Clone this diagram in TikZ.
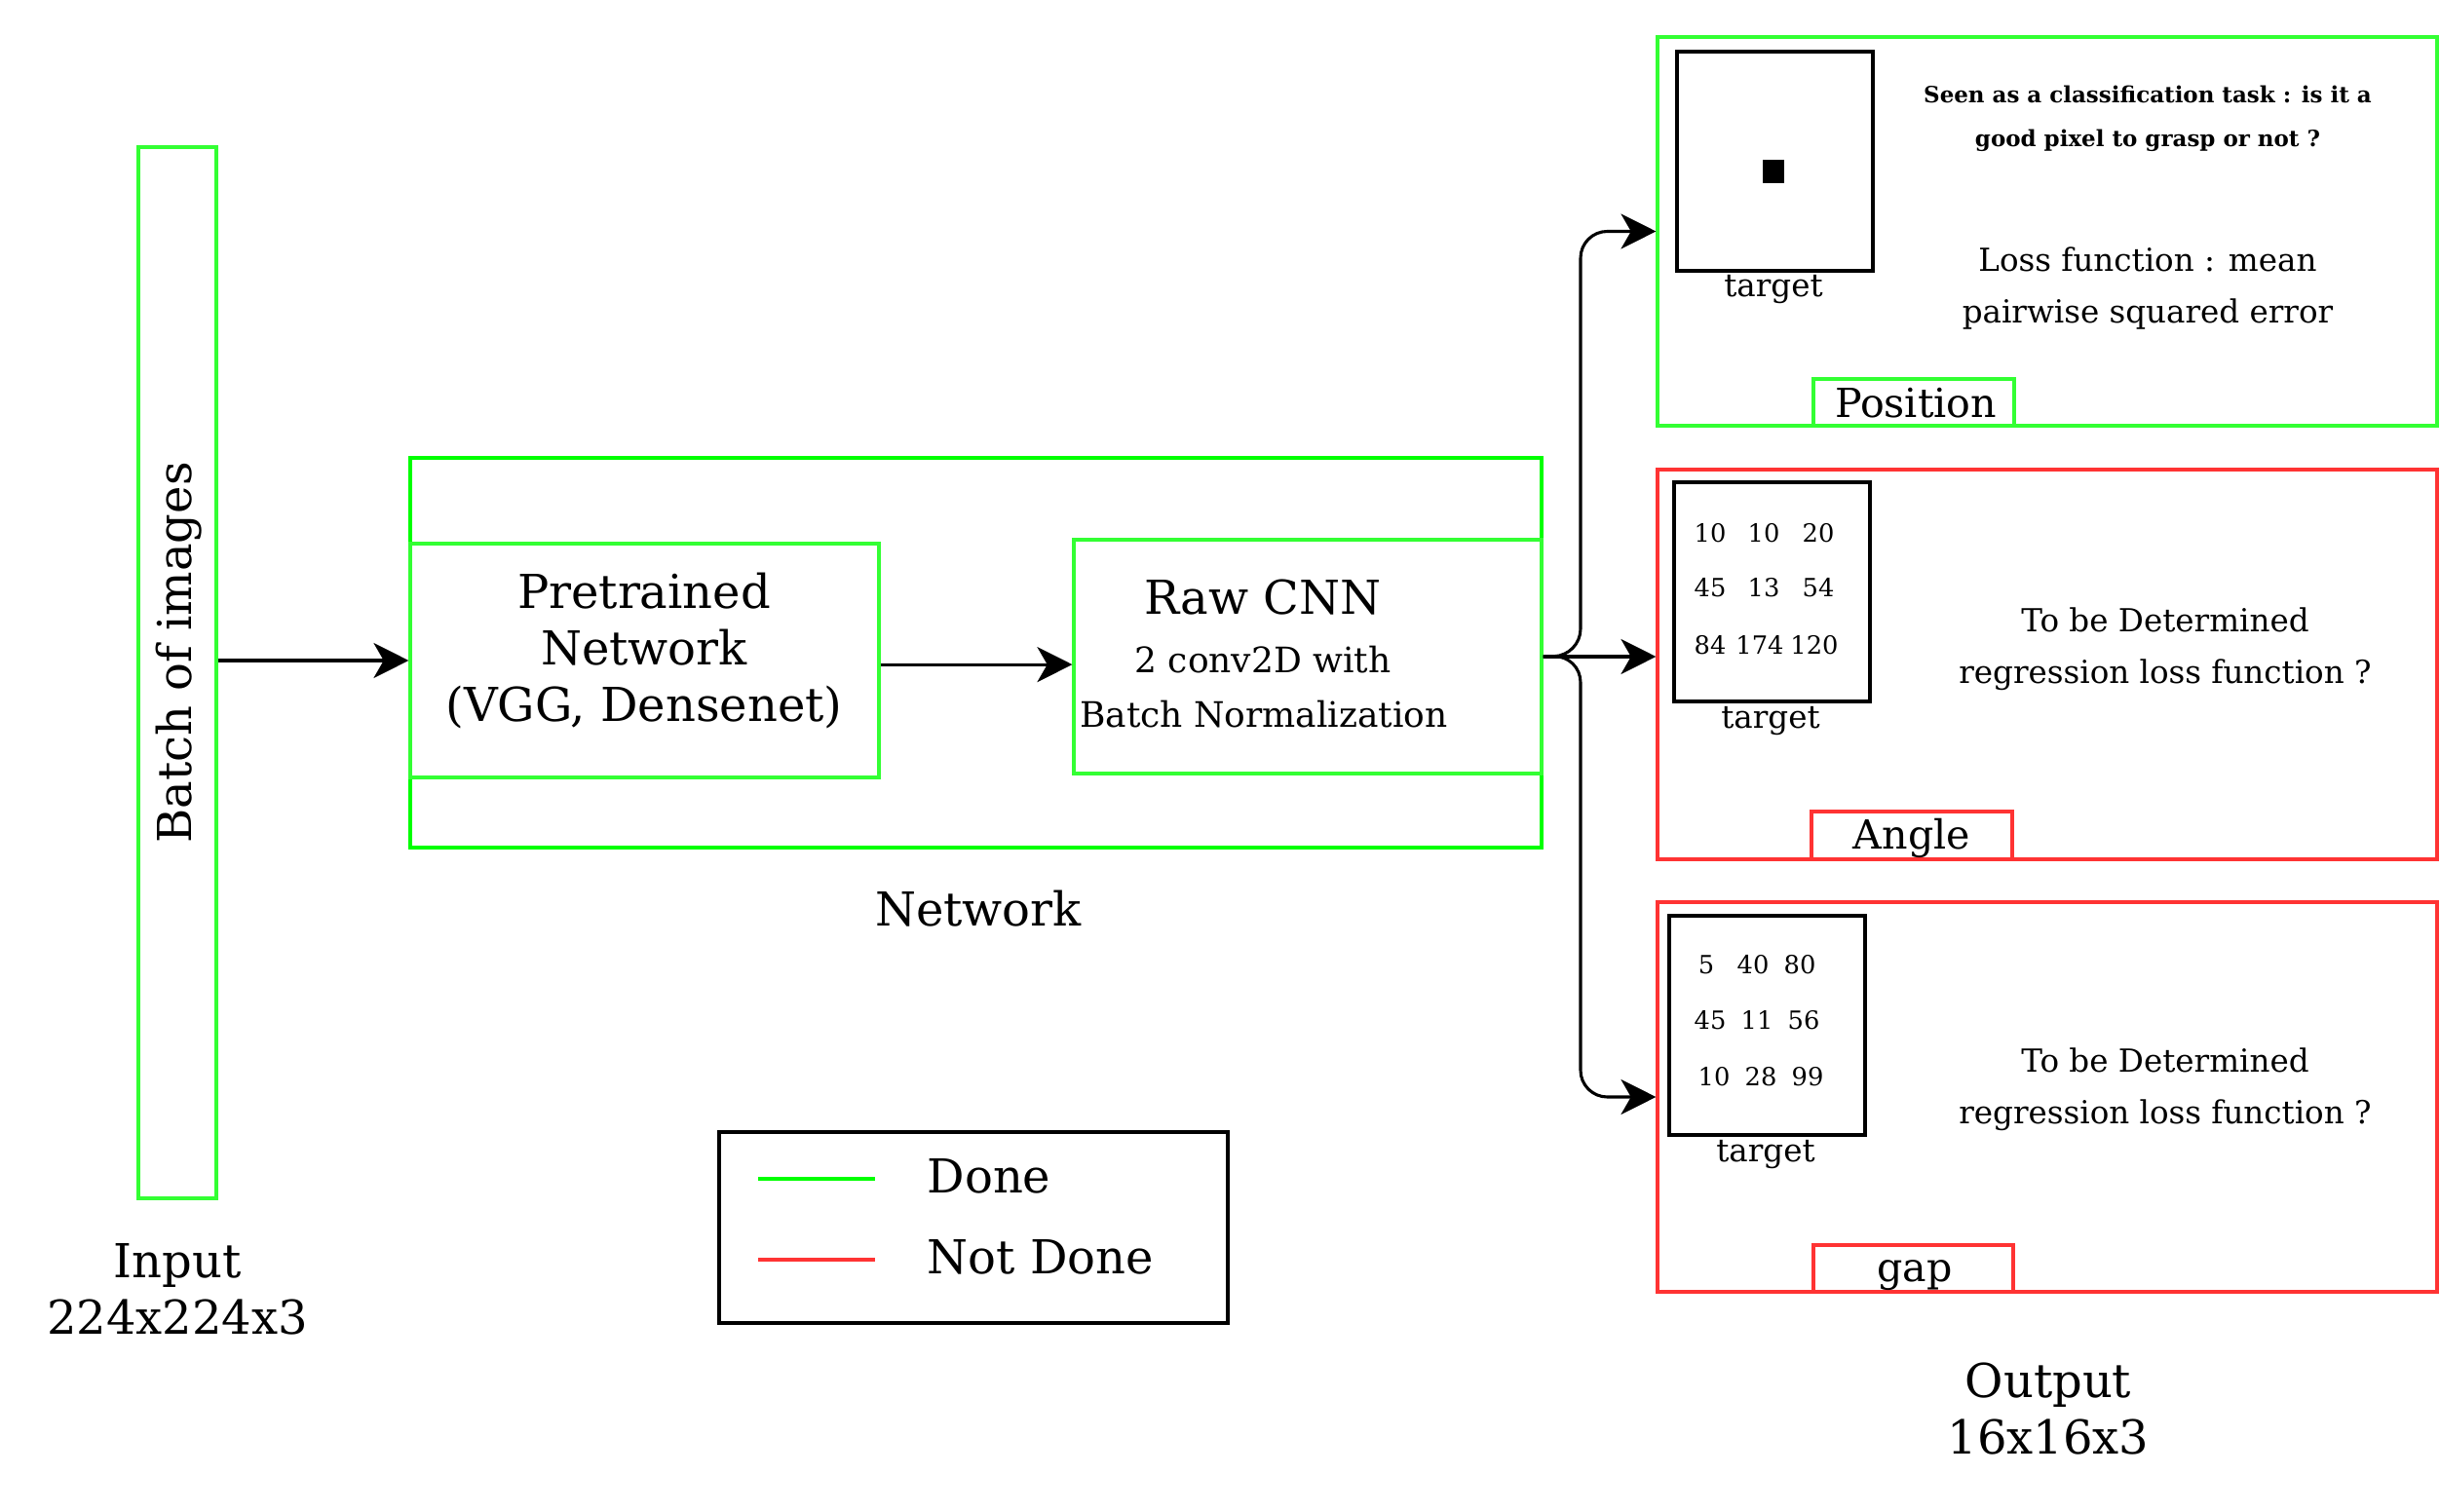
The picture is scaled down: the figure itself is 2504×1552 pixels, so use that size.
\documentclass[tikz,border=0pt]{standalone}
\usepackage{fontspec}
\setmainfont{DejaVu Serif}
\usetikzlibrary{arrows.meta,fit}
\definecolor{gA}{HTML}{00FF00}
\definecolor{gB}{HTML}{33FF33}
\definecolor{rA}{HTML}{FF3333}
\begin{document}
\begin{tikzpicture}[x=0.29167pt,y=-0.29167pt,
  box/.style={draw, inner sep=0pt, line width=0.9pt},
  gbox/.style={box, draw=gB},
  nbox/.style={box, draw=gA},
  rbox/.style={box, draw=rA},
  tbox/.style={draw=black, line width=1.2pt, inner sep=0pt},
  lbl/.style={inner sep=0pt, font=\fontsize{14}{17}\selectfont, align=center},
  tag/.style={inner sep=0pt, font=\fontsize{12}{14}\selectfont},
  mid/.style={inner sep=0pt, font=\fontsize{10.5}{12}\selectfont},
  sml/.style={inner sep=0pt, font=\fontsize{9.5}{11}\selectfont},
  tny/.style={inner sep=0pt, font=\fontsize{6.7}{8}\selectfont\bfseries},
  num/.style={inner sep=0pt, font=\fontsize{7.5}{9}\selectfont},
  arr/.style={draw=black, line width=0.9pt, -{Stealth[length=10.5pt,width=10.5pt,inset=3pt]}},
]
\useasboundingbox (0,0) rectangle (2504,1552);

% Input
\node[gbox, fit={(142,151) (222,1230)}] (batch) {};
\node[lbl, rotate=90] (batchtxt) at (184,670) {Batch of images};
\node[lbl] (inlbl) at (182,1323) {Input\\224x224x3};

% Network
\node[nbox, fit={(421,470) (1582,870)}] (net) {};
\node[gbox, fit={(421,558) (902,798)}] (pre) {};
\node[gbox, fit={(1102,554) (1582,794)}] (raw) {};
\node[lbl] (pretxt) at (661,668) {Pretrained\\Network\\(VGG, Densenet)};
\node[lbl] (rawtxt) at (1296,613) {Raw CNN};
\node[mid] (rawtxt2) at (1296,677) {2 conv2D with};
\node[mid] (rawtxt3) at (1297,733) {Batch Normalization};
\node[lbl] (netlbl) at (1004,933) {Network};

% Position
\node[gbox, fit={(1701,38) (2501,437)}] (pos) {};
\node[tbox, fit={(1721,53) (1922,278)}] (postgt) {};
\node[fill=black, inner sep=0pt, fit={(1809,164) (1831,188)}] (posdot) {};
\node[sml] (postgtlbl) at (1820,297) {target};
\node[tny] (posq1) at (2204,97) {Seen as a classification task : is it a};
\node[tny] (posq2) at (2204,144) {good pixel to grasp or not ?};
\node[sml] (posl1) at (2204,266) {Loss function : mean};
\node[sml] (posl2) at (2204,323) {pairwise squared error};
\node[gbox, fit={(1861,389) (2067,437)}] (posname) {};
\node[tag] (posnametxt) at (1966,414) {Position};

% Angle
\node[rbox, fit={(1701,482) (2501,882)}] (ang) {};
\node[tbox, fit={(1718,495) (1919,720)}] (angtgt) {};
\node[num] (a11) at (1755,547) {10};
\node[num] (a12) at (1810,547) {10};
\node[num] (a13) at (1866,547) {20};
\node[num] (a21) at (1755,603) {45};
\node[num] (a22) at (1810,603) {13};
\node[num] (a23) at (1866,603) {54};
\node[num] (a31) at (1755,662) {84};
\node[num] (a32) at (1806,662) {174};
\node[num] (a33) at (1862,662) {120};
\node[sml] (angtgtlbl) at (1817,740) {target};
\node[sml] (angl1) at (2222,636) {To be Determined};
\node[sml] (angl2) at (2222,693) {regression loss function ?};
\node[rbox, fit={(1859,833) (2065,882)}] (angname) {};
\node[tag] (angnametxt) at (1962,860) {Angle};

% Gap
\node[rbox, fit={(1701,926) (2501,1326)}] (gap) {};
\node[tbox, fit={(1713,940) (1914,1165)}] (gaptgt) {};
\node[num] (g11) at (1751,990) {5};
\node[num] (g12) at (1799,990) {40};
\node[num] (g13) at (1847,990) {80};
\node[num] (g21) at (1755,1047) {45};
\node[num] (g22) at (1803,1047) {11};
\node[num] (g23) at (1851,1047) {56};
\node[num] (g31) at (1759,1105) {10};
\node[num] (g32) at (1807,1105) {28};
\node[num] (g33) at (1855,1105) {99};
\node[sml] (gaptgtlbl) at (1812,1185) {target};
\node[sml] (gapl1) at (2222,1088) {To be Determined};
\node[sml] (gapl2) at (2222,1145) {regression loss function ?};
\node[rbox, fit={(1861,1278) (2066,1326)}] (gapname) {};
\node[tag] (gapnametxt) at (1965,1309) {gap};

\node[lbl] (outlbl) at (2102,1446) {Output\\16x16x3};

% Legend
\node[draw=black, line width=1.1pt, inner sep=0pt, fit={(738,1162) (1260,1358)}] (legend) {};
\coordinate (lg1a) at (778,1210);
\coordinate (lg1b) at (898,1210);
\coordinate (lg2a) at (778,1293);
\coordinate (lg2b) at (898,1293);
\draw[gA, line width=0.9pt] (lg1a) -- (lg1b);
\draw[rA, line width=0.9pt] (lg2a) -- (lg2b);
\node[lbl, anchor=west] (done) at (951,1207) {Done};
\node[lbl, anchor=west] (notdone) at (951,1290) {Not Done};

% Connectors
\coordinate (jx) at (1622,673);
\draw[arr] (batch.east |- pre.west) -- (pre.west);
\draw[arr] ([yshift=-1.2pt]pre.east) -- ([yshift=-1.2pt]pre.east -| raw.west);
\draw[arr, rounded corners=8pt] (raw.east) -- (jx) -- (jx |- pos.west) -- (pos.west);
\draw[arr] (raw.east) -- (raw.east -| ang.west);
\draw[arr, rounded corners=8pt] (raw.east) -- (jx) -- (jx |- gap.west) -- (gap.west);
\end{tikzpicture}
\end{document}
